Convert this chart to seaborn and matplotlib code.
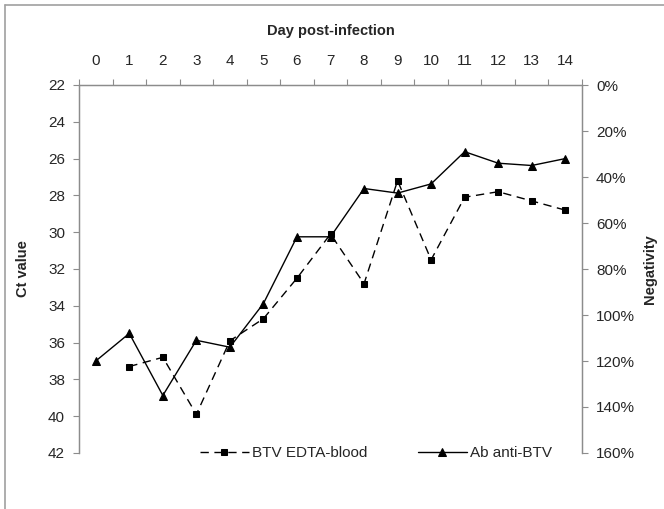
import matplotlib
matplotlib.use("Agg")
import matplotlib.pyplot as plt
from matplotlib.lines import Line2D
from matplotlib.ticker import FixedLocator, PercentFormatter
import numpy as np
import pandas as pd
import seaborn as sns

# Data
days_blood = [1, 2, 3, 4, 5, 6, 7, 8, 9, 10, 11, 12, 13, 14]
ct_blood = [37.3, 36.8, 39.9, 35.9, 34.7, 32.5, 30.1, 32.8, 27.2, 31.5, 28.1, 27.8, 28.3, 28.8]

days_ab = [0, 1, 2, 3, 4, 5, 6, 7, 8, 9, 10, 11, 12, 13, 14]
neg_ab = [120, 108, 135, 111, 114, 95, 66, 66, 45, 47, 43, 29, 34, 35, 32]

day_labels = [str(d) for d in range(15)]
ct_ticks = list(range(22, 43, 2))
neg_ticks = list(range(0, 161, 20))

sns.set_style("white")
plt.rcParams["font.family"] = ["Liberation Sans", "DejaVu Sans"]

GREY = "#8c8c8c"

fig = plt.figure(figsize=(6.64, 5.09), dpi=100)
ax = fig.add_axes([79 / 664, 1 - 453 / 509, (582 - 79) / 664, (453 - 85) / 509])
ax2 = ax.twinx()

blood = pd.DataFrame({"day": days_blood, "ct": ct_blood})
ab = pd.DataFrame({"day": days_ab, "neg": neg_ab})

sns.lineplot(data=blood, x="day", y="ct", ax=ax, color="black", linewidth=1.0,
             marker="s", markersize=4.5, markeredgecolor="black",
             dashes=False, label="BTV EDTA-blood", legend=False)
ax.lines[-1].set_dashes([6, 4])
sns.lineplot(data=ab, x="day", y="neg", ax=ax2, color="black", linewidth=1.0,
             marker="^", markersize=5.5, markeredgecolor="black",
             label="Ab anti-BTV", legend=False)

ax.set_xlim(-0.5, 14.5)
ax.set_ylim(42, 22)
ax2.set_ylim(160, 0)

# x axis on top, labels centred, ticks between categories
ax.xaxis.tick_top()
ax.xaxis.set_label_position("top")
ax.set_xticks(range(15))
ax.set_xticklabels(day_labels)
ax.xaxis.set_minor_locator(FixedLocator(np.arange(-0.5, 14.6, 1)))
ax.tick_params(axis="x", which="major", length=0, pad=12, labelsize=11)
ax.tick_params(axis="x", which="minor", top=True, length=4, width=0.8,
               color=GREY, direction="out")

ax.set_yticks(ct_ticks)
ax.tick_params(axis="y", left=True, length=4, width=0.8, color=GREY,
               direction="out", labelsize=11, pad=6)
ax2.set_yticks(neg_ticks)
ax2.yaxis.set_major_formatter(PercentFormatter(decimals=0))
ax2.tick_params(axis="y", right=True, length=4, width=0.8, color=GREY,
                direction="out", labelsize=11, pad=6)

for a in (ax, ax2):
    a.spines["bottom"].set_visible(False)
    for s in ("top", "left", "right"):
        a.spines[s].set_color(GREY)
        a.spines[s].set_linewidth(0.9)
    a.grid(False)

ax.set_xlabel("Day post-infection", fontsize=10.5, fontweight="bold", labelpad=14)
ax.set_ylabel("Ct value", fontsize=10.5, fontweight="bold", labelpad=13)
ax2.set_ylabel("Negativity", fontsize=10.5, fontweight="bold", labelpad=6)

handles = ax.get_lines()[:1] + ax2.get_lines()[:1]
ax2.legend(handles, ["BTV EDTA-blood", "Ab anti-BTV"], loc="center",
           bbox_to_anchor=(0.59, 0.0), ncol=2, frameon=False, fontsize=11,
           handlelength=3.2, handletextpad=0.2, columnspacing=3.3)

# partial chart-area border (top and left edges visible in the reference)
fig.add_artist(Line2D([5 / 664, 1.0], [1 - 5 / 509, 1 - 5 / 509], color="#a0a0a0",
                      linewidth=1.2, transform=fig.transFigure))
fig.add_artist(Line2D([5 / 664, 5 / 664], [0.0, 1 - 5 / 509], color="#a0a0a0",
                      linewidth=1.2, transform=fig.transFigure))

fig.savefig("out.png", dpi=100)
